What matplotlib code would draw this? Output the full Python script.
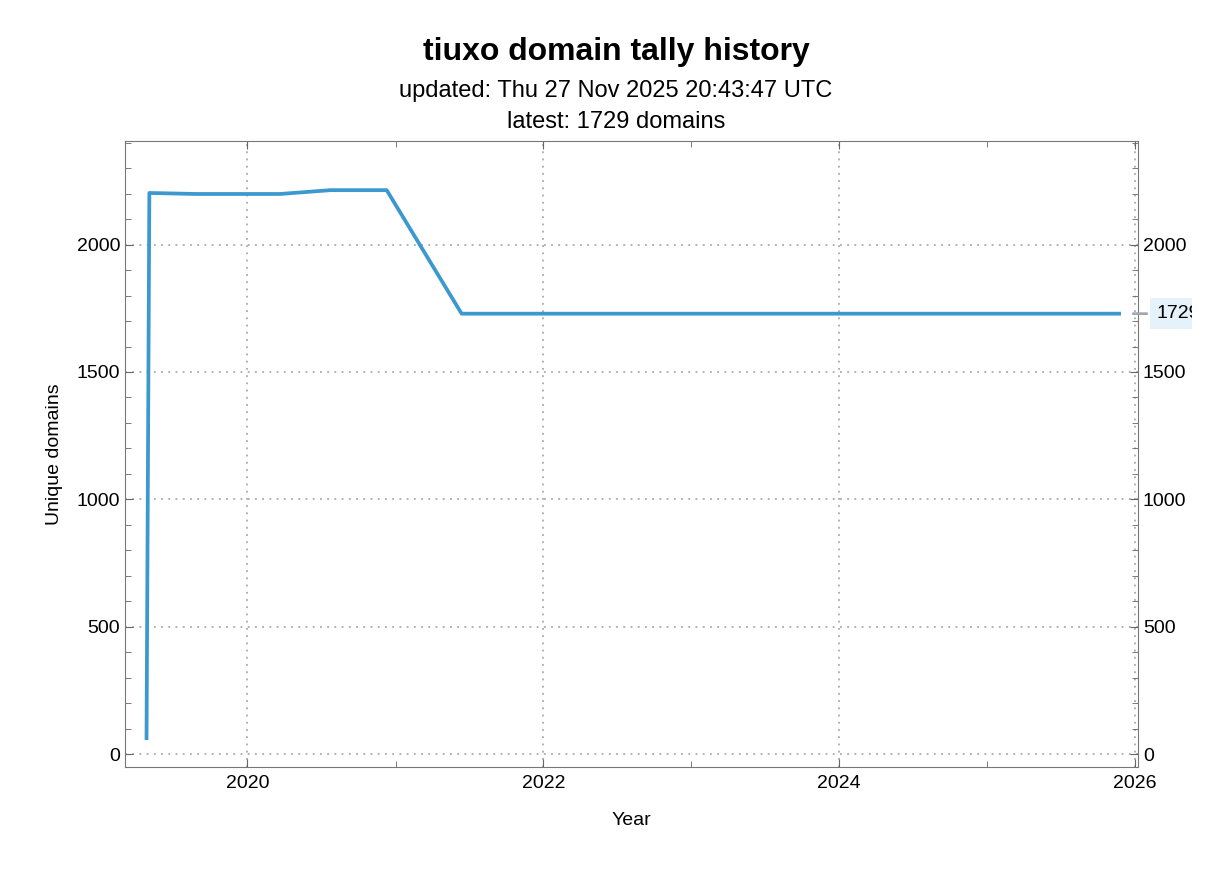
import matplotlib
matplotlib.use("Agg")
import matplotlib.pyplot as plt
import matplotlib.dates as mdates
from matplotlib.transforms import Bbox, TransformedBbox
import numpy as np
from datetime import datetime

plt.rcParams['font.family'] = ['Liberation Sans', 'DejaVu Sans']

# data
dates = ["2019-04-27", "2019-05-04", "2019-08-28", "2020-03-22",
         "2020-07-24", "2020-12-10", "2021-06-13", "2025-11-27"]
domains = [55, 2203, 2199, 2199, 2214, 2214, 1729, 1729]

title = "tiuxo domain tally history"
updated = "updated: Thu 27 Nov 2025 20:43:47 UTC"
latest = domains[-1]

x = [datetime.strptime(d, "%Y-%m-%d") for d in dates]

fig = plt.figure(figsize=(12.32, 8.72), dpi=100)
ax = fig.add_axes([0.1015, 0.1204, 0.8222, 0.7179])

line_color = "#3c99cf"
ax.plot(x, domains, color=line_color, lw=2.7, solid_capstyle="butt")

ax.set_xlim(datetime(2019, 3, 5), datetime(2026, 1, 8))
ax.set_ylim(-51, 2407)

ax.xaxis.set_major_locator(mdates.YearLocator(2))
ax.xaxis.set_minor_locator(mdates.YearLocator(1))
ax.xaxis.set_major_formatter(mdates.DateFormatter("%Y"))
ax.yaxis.set_major_locator(plt.MultipleLocator(500))
ax.yaxis.set_minor_locator(plt.MultipleLocator(100))

ax.tick_params(which="both", direction="in", top=True, right=True,
               labelright=True, color="#666666", labelsize=14)
ax.tick_params(which="major", length=6)
ax.tick_params(which="minor", length=4)
ax.tick_params(axis="x", pad=6)
for s in ax.spines.values():
    s.set_color("#777777")

ax.grid(True, which="major", linestyle=(0, (1, 3)), color="#aaaaaa", lw=1.3)

ax.set_xlabel("Year", fontsize=14, labelpad=14)
ax.set_ylabel("Unique domains", fontsize=14, labelpad=10)

fig.text(0.5, 0.940, title, ha="center", va="center", fontsize=23, fontweight="bold")
fig.text(0.5, 0.896, updated, ha="center", va="center", fontsize=17)
fig.text(0.5, 0.860, f"latest: {latest} domains", ha="center", va="center", fontsize=17)

# latest value tag on the right, cut off like in the original
ax.annotate("", xy=(0.9925, latest), xycoords=("axes fraction", "data"),
            xytext=(1.0115, latest), textcoords=("axes fraction", "data"),
            arrowprops=dict(arrowstyle="-", color="#a0a8b0", lw=2),
            annotation_clip=False)
tag = ax.annotate(str(latest), xy=(1.0185, latest), xycoords=("axes fraction", "data"),
                  ha="left", va="center", fontsize=14, annotation_clip=False,
                  bbox=dict(boxstyle="square,pad=0.35", fc="#e5f1fb", ec="none"))
tag.set_clip_box(TransformedBbox(Bbox([[0, 0], [0.9675, 1]]), fig.transFigure))
tag.set_clip_on(True)

fig.savefig("out.png", dpi=100)
